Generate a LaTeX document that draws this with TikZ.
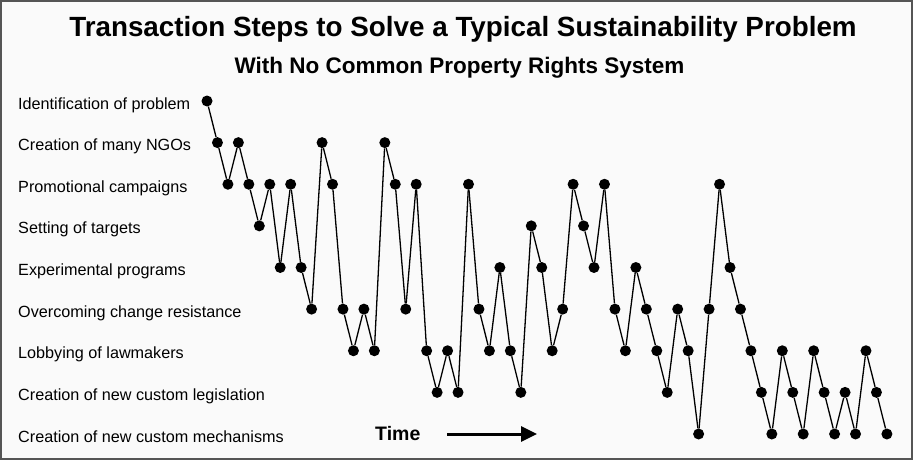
\documentclass[tikz,border=0pt]{standalone}
\usepackage{fontspec}
\setmainfont{Liberation Sans}
\usetikzlibrary{arrows.meta}
\definecolor{bgcol}{HTML}{FAFAFA}
\definecolor{framecol}{HTML}{555555}
\tikzset{
  dot/.style={circle, fill=black, inner sep=0pt, minimum size=11pt},
  link/.style={line width=1.3pt, black},
  lab/.style={anchor=base west, inner sep=0pt, font=\fontsize{16.2}{19}\selectfont},
  ttl/.style={anchor=base, inner sep=0pt, font=\fontsize{27.8}{32}\selectfont\bfseries},
  subttl/.style={anchor=base, inner sep=0pt, font=\fontsize{22.5}{26}\selectfont\bfseries},
  timelab/.style={anchor=base west, inner sep=0pt, font=\fontsize{19.5}{22}\selectfont\bfseries},
  timearrow/.style={line width=3pt, -{Triangle[length=16pt, width=15pt]}}
}
\begin{document}
\begin{tikzpicture}[x=1pt, y=-1pt]
\useasboundingbox (0,0) rectangle (913,460);
\fill[bgcol] (0,0) rectangle (913,460);
\draw[framecol, line width=2pt] (1,1) rectangle (912,459);

\node[ttl] (title) at (463,37) {Transaction Steps to Solve a Typical Sustainability Problem};
\node[subttl] (subtitle) at (459.5,74) {With No Common Property Rights System};

\foreach \t [count=\k] in {Identification of problem, Creation of many NGOs, Promotional campaigns, Setting of targets, Experimental programs, Overcoming change resistance, Lobbying of lawmakers, Creation of new custom legislation, Creation of new custom mechanisms}
  \node[lab] (lab\k) at (18, {101+(\k-1)*41.625+8}) {\t};

\foreach \l [count=\i] in {1,2,3,2,3,4,3,5,3,5,6,2,3,6,7,6,7,2,3,6,3,7,8,7,8,3,6,7,5,7,8,4,5,7,6,3,4,5,3,6,7,5,6,7,8,6,7,9,6,3,5,6,7,8,9,7,8,9,7,8,9,8,9,7,8,9}
  \node[dot] (p\i) at ({207+(\i-1)*10.46}, {101+(\l-1)*41.625}) {};

\foreach \i [evaluate=\i as \j using int(\i+1)] in {1,...,65}
  \draw[link] (p\i) -- (p\j);

\node[timelab] (time) at (375,440) {Time};
\coordinate (arrowstart) at (447,434);
\coordinate (arrowend) at (537,434);
\draw[timearrow] (arrowstart) -- (arrowend);
\end{tikzpicture}
\end{document}
